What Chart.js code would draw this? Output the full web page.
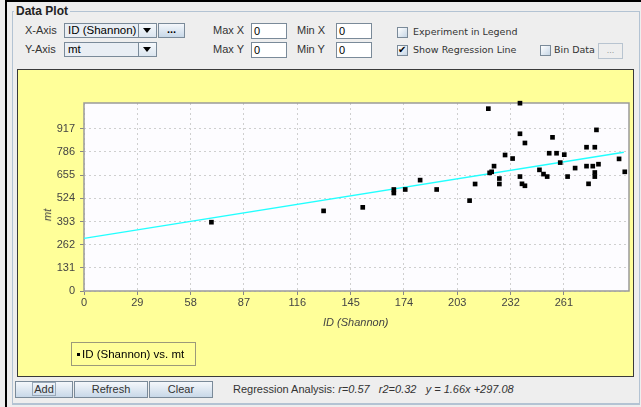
<!DOCTYPE html>
<html><head><meta charset="utf-8">
<script src="https://cdn.jsdelivr.net/npm/chart.js@4/dist/chart.umd.min.js"></script>
<style>
html,body{margin:0;padding:0;}
body{width:641px;height:407px;background:#eeeeee;position:relative;overflow:hidden;font-family:"Liberation Sans",Arial,sans-serif;font-size:11px;color:#333;}
.a{position:absolute;}
.lbl{position:absolute;line-height:14px;white-space:nowrap;color:#333;}
.combo{position:absolute;height:15px;border:1px solid #7a8a99;background:#e9eef4;box-sizing:border-box;}
.combo .t{position:absolute;left:3px;top:0;line-height:13px;color:#000;font-size:11.5px;}
.combo .arr{position:absolute;right:0;top:0;width:17px;height:13px;border-left:1px solid #7a8a99;background:linear-gradient(#f6f9fc,#dbe5ef);}
.combo .arr:after{content:"";position:absolute;left:4px;top:4px;border-left:4.5px solid transparent;border-right:4.5px solid transparent;border-top:5px solid #000;}
.field{position:absolute;height:16px;border:1px solid #7a8a99;background:#fff;box-sizing:border-box;}
.field span{position:absolute;left:2px;top:0;line-height:14px;color:#000;}
.btn{position:absolute;border:1px solid #7a8a99;box-sizing:border-box;background:linear-gradient(#f4f7fb,#c8d8e8);text-align:center;color:#333;}
.cb{position:absolute;width:11px;height:11px;border:1px solid #7a8a99;box-sizing:border-box;background:linear-gradient(135deg,#ffffff,#c6d6e6);}
.cbl{position:absolute;line-height:12px;font-family:"DejaVu Sans",sans-serif;font-size:9.5px;color:#333;white-space:nowrap;}
</style></head>
<body>
<div class="a" style="left:5px;top:0;width:636px;height:2px;background:#000"></div>
<div class="a" style="left:5px;top:0;width:2px;height:407px;background:#000"></div>
<div class="a" style="left:12px;top:11px;width:626px;height:392px;border:1px solid #b3c3d3;"></div>
<div class="a" style="left:14px;top:4px;padding:0 2px;background:#eeeeee;font-weight:bold;font-size:12px;line-height:15px;color:#222;">Data Plot</div>

<div class="lbl" style="left:25px;top:23px;">X-Axis</div>
<div class="combo" style="left:64px;top:23px;width:93px;"><span class="t">ID (Shannon)</span><span class="arr"></span></div>
<div class="btn" style="left:158px;top:23px;width:27px;height:15px;line-height:10px;font-weight:bold;color:#000;">...</div>
<div class="lbl" style="left:25px;top:42px;">Y-Axis</div>
<div class="combo" style="left:64px;top:42px;width:93px;"><span class="t">mt</span><span class="arr"></span></div>

<div class="lbl" style="left:213px;top:23px;">Max X</div>
<div class="field" style="left:251px;top:23px;width:36px;"><span>0</span></div>
<div class="lbl" style="left:297px;top:23px;">Min X</div>
<div class="field" style="left:336px;top:23px;width:36px;"><span>0</span></div>
<div class="lbl" style="left:213px;top:42px;">Max Y</div>
<div class="field" style="left:251px;top:42px;width:36px;"><span>0</span></div>
<div class="lbl" style="left:297px;top:42px;">Min Y</div>
<div class="field" style="left:336px;top:42px;width:36px;"><span>0</span></div>

<div class="cb" style="left:397px;top:27px;"></div>
<div class="cbl" style="left:413px;top:26px;">Experiment in Legend</div>
<div class="cb" style="left:397px;top:45px;"><span style="position:absolute;left:0px;top:-3px;font-size:10px;line-height:14px;color:#000;font-family:'DejaVu Sans';">✔</span></div>
<div class="cbl" style="left:413px;top:44px;">Show Regression Line</div>
<div class="cb" style="left:540px;top:45px;"></div>
<div class="cbl" style="left:554px;top:44px;">Bin Data</div>
<div class="btn" style="left:598px;top:43px;width:25px;height:16px;line-height:12px;color:#999;font-size:9px;background:#eeeeee;border-color:#b8c4d0;">...</div>

<div class="a" style="left:17px;top:69px;width:617px;height:308px;box-sizing:border-box;border:1px solid #3a3a3a;background:#ffff99;">
  <canvas id="c" width="615" height="306" style="position:absolute;left:0;top:0;"></canvas>
  <div class="a" style="left:53px;top:272px;width:125px;height:24px;box-sizing:border-box;border:1px solid #9c9a7a;">
    <div class="a" style="left:5px;top:10px;width:3px;height:3px;background:#000"></div>
    <div class="a" style="left:10px;top:4px;line-height:14px;font-size:11.5px;color:#000;white-space:nowrap;">ID (Shannon) vs. mt</div>
  </div>
</div>
<div class="lbl" style="left:323px;top:315px;font-style:italic;color:#444;">ID (Shannon)</div>
<div class="lbl" style="left:41px;top:208px;font-style:italic;color:#444;transform:rotate(-90deg);transform-origin:center;">mt</div>

<div class="btn" style="left:15px;top:381px;width:58px;height:17px;line-height:15px;"><span style="border:1px solid #9aa9b8;padding:0 1px;">Add</span></div>
<div class="btn" style="left:74px;top:381px;width:74px;height:17px;line-height:15px;">Refresh</div>
<div class="btn" style="left:149px;top:381px;width:64px;height:17px;line-height:15px;">Clear</div>
<div class="lbl" style="left:233px;top:382px;color:#333;">Regression Analysis: <i>r=0.57</i>&nbsp;&nbsp;&nbsp;<i>r2=0.32</i>&nbsp;&nbsp;&nbsp;<i>y = 1.66x +297.08</i></div>
<div class="a" style="left:12px;top:403px;width:627px;height:1px;background:#b3c3d3"></div>

<script>
// Data
const idShannon = [69.3,130.3,151.6,168.5,168.5,174.7,182.8,191.8,209.7,212.7,219.9,237.1,237.1,239.8,229.0,233.1,223.0,221.7,220.6,225.9,225.9,237.1,238.2,239.8,247.7,249.9,251.9,254.8,253.0,257.0,261.2,259.0,263.0,267.1,273.3,277.8,278.7,273.3,276.7,279.8,277.8,277.8,274.4,291.0,294.1];
const mt = [389,453,473,574,554,574,627,574,511,605,1031,1062,889,837,769,749,706,674,668,636,605,647,606,595,685,661,647,869,779,779,771,726,647,695,813,813,911,706,706,717,670,647,606,747,674];
const regX = [0, 293.6];
const regY = [297.1, 784.5];
const xTicks = [0,29,58,87,116,145,174,203,232,261];
const yTicks = [0,131,262,393,524,655,786,917];

const points = idShannon.map((x,i)=>({x:x,y:mt[i]}));
const regLine = regX.map((x,i)=>({x:x,y:regY[i]}));

const plotFrame = {
  id:'plotFrame',
  beforeDraw(chart){
    const {ctx, chartArea:a} = chart;
    ctx.save(); ctx.fillStyle='#fdfcff'; ctx.fillRect(a.left,a.top,a.right-a.left,a.bottom-a.top); ctx.restore();
  },
  beforeDatasetsDraw(chart){
    const {ctx, chartArea:a} = chart;
    ctx.save(); ctx.strokeStyle='#9a9a9a'; ctx.lineWidth=1.5;
    ctx.strokeRect(a.left,a.top,a.right-a.left,a.bottom-a.top); ctx.restore();
  }
};

Chart.defaults.font.family = '"Liberation Sans", Arial, sans-serif';
Chart.defaults.font.size = 11;
Chart.defaults.color = '#444';

new Chart(document.getElementById('c'), {
  type:'scatter',
  data:{datasets:[
    {data:points, backgroundColor:'#000', borderWidth:0, pointStyle:'rect', pointRadius:3.3, clip:false, order:1},
    {type:'line', data:regLine, borderColor:'#22ffff', borderWidth:1.3, pointRadius:0, fill:false, order:2}
  ]},
  options:{
    responsive:false, animation:false, devicePixelRatio:1,
    layout:{padding:{top:33, right:3.5, left:0, bottom:0}},
    plugins:{legend:{display:false}, tooltip:{enabled:false}},
    scales:{
      x:{type:'linear', min:0, max:296.4,
        afterBuildTicks:s=>{s.ticks = xTicks.map(v=>({value:v}));},
        afterFit:s=>{s.height=85;},
        ticks:{autoSkip:false, maxRotation:0, padding:1, color:'#444', callback:v=>String(v)},
        grid:{color:'#cfcfcf', lineWidth:1, tickColor:'#888', tickLength:4, tickBorderDash:[]},
        border:{display:false, dash:[2,3]}
      },
      y:{type:'linear', min:0, max:1063,
        afterBuildTicks:s=>{s.ticks = yTicks.map(v=>({value:v}));},
        afterFit:s=>{s.width=66;},
        ticks:{autoSkip:false, padding:5, color:'#444', callback:v=>String(v)},
        grid:{color:'#cfcfcf', lineWidth:1, tickColor:'#888', tickLength:4, tickBorderDash:[]},
        border:{display:false, dash:[2,3]}
      }
    }
  },
  plugins:[plotFrame]
});
</script>
</body></html>
